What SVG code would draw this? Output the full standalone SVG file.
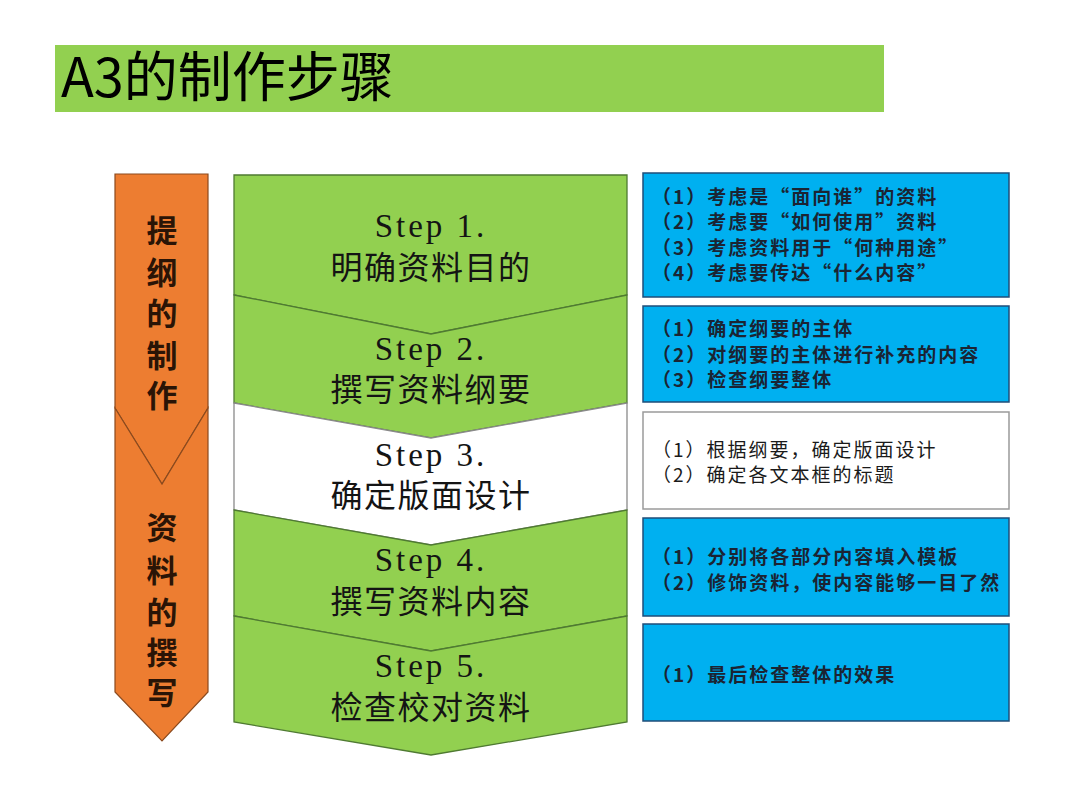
<svg xmlns="http://www.w3.org/2000/svg" width="1080" height="809" viewBox="0 0 1080 809">
<style>
.bg{fill:#ffffff}
.title{font-family:"Noto Sans CJK SC","Liberation Serif",serif;font-size:54px;fill:#000}
.orange{fill:#ED7D31;stroke:#8B4A1E;stroke-width:1.2}
.otext{font-family:"Liberation Serif","Noto Sans CJK SC",serif;font-size:31px;font-weight:bold;fill:#2a1406;text-anchor:middle}
.green{fill:#92D050;stroke:#4f7a32;stroke-width:1.3}
.white{fill:#ffffff;stroke:#8a8a8a;stroke-width:1.3}
.step{font-family:"Liberation Serif","Noto Sans CJK SC",serif;font-size:33px;letter-spacing:3px;fill:#141414;text-anchor:middle}
.scn{font-family:"Noto Sans CJK SC",sans-serif;font-size:32px;letter-spacing:1.5px;fill:#141414;text-anchor:middle}
.blue{fill:#00B0F0;stroke:#1F4E79;stroke-width:1.5}
.wbox{fill:#ffffff;stroke:#9a9a9a;stroke-width:1.5}
.btext{font-family:"Noto Sans CJK SC",sans-serif;font-size:19px;font-weight:bold;letter-spacing:2px;fill:#1b2433}
.btext2{font-family:"Noto Sans CJK SC",sans-serif;font-size:19px;letter-spacing:2px;fill:#1a1a1a}
</style>
<rect class="bg" x="0" y="0" width="1080" height="809"/>
<g id="title">
<rect x="55" y="45" width="829" height="67" fill="#92D050"/>
<text class="title" x="61" y="97">A3的制作步骤</text>
</g>
<g id="phase-outline">
<polygon class="orange" points="115,174 208,174 208,408 162,484 115,408"/>
<text class="otext" x="162" y="242">提</text>
<text class="otext" x="162" y="284">纲</text>
<text class="otext" x="162" y="325">的</text>
<text class="otext" x="162" y="367">制</text>
<text class="otext" x="162" y="407">作</text>
</g>
<g id="phase-writing">
<polygon class="orange" points="115,408 162,484 208,408 208,692 162,741 115,692"/>
<text class="otext" x="162" y="539">资</text>
<text class="otext" x="162" y="582">料</text>
<text class="otext" x="162" y="624">的</text>
<text class="otext" x="162" y="664">撰</text>
<text class="otext" x="162" y="704">写</text>
</g>
<g id="step1">
<polygon class="green" points="234,175 627,175 627,295 431,334 234,295"/>
<text class="step" x="431" y="237">Step 1.</text>
<text class="scn" x="431" y="279">明确资料目的</text>
</g>
<g id="step2">
<polygon class="green" points="234,295 431,334 627,295 627,403 431,438 234,403"/>
<text class="step" x="431" y="360">Step 2.</text>
<text class="scn" x="431" y="401">撰写资料纲要</text>
</g>
<g id="step3">
<polygon class="white" points="234,403 431,438 627,403 627,510 431,545 234,510"/>
<text class="step" x="431" y="466">Step 3.</text>
<text class="scn" x="431" y="507">确定版面设计</text>
</g>
<g id="step4">
<polygon class="green" points="234,510 431,545 627,510 627,616 431,651 234,616"/>
<text class="step" x="431" y="571">Step 4.</text>
<text class="scn" x="431" y="613">撰写资料内容</text>
</g>
<g id="step5">
<polygon class="green" points="234,616 431,651 627,616 627,722 431,755 234,722"/>
<text class="step" x="431" y="677">Step 5.</text>
<text class="scn" x="431" y="719">检查校对资料</text>
</g>
<g id="box1">
<rect class="blue" x="643" y="173" width="366" height="124"/>
<text class="btext" x="652" y="204">（1）考虑是“面向谁”的资料</text>
<text class="btext" x="652" y="229">（2）考虑要“如何使用”资料</text>
<text class="btext" x="652" y="255">（3）考虑资料用于“何种用途”</text>
<text class="btext" x="652" y="280">（4）考虑要传达“什么内容”</text>
</g>
<g id="box2">
<rect class="blue" x="643" y="306" width="366" height="96"/>
<text class="btext" x="652" y="336">（1）确定纲要的主体</text>
<text class="btext" x="652" y="362">（2）对纲要的主体进行补充的内容</text>
<text class="btext" x="652" y="387">（3）检查纲要整体</text>
</g>
<g id="box3">
<rect class="wbox" x="643" y="412" width="366" height="97"/>
<text class="btext2" x="652" y="457">（1）根据纲要，确定版面设计</text>
<text class="btext2" x="652" y="482">（2）确定各文本框的标题</text>
</g>
<g id="box4">
<rect class="blue" x="643" y="518" width="366" height="98"/>
<text class="btext" x="652" y="564">（1）分别将各部分内容填入模板</text>
<text class="btext" x="652" y="590">（2）修饰资料，使内容能够一目了然</text>
</g>
<g id="box5">
<rect class="blue" x="643" y="624" width="366" height="97"/>
<text class="btext" x="652" y="682">（1）最后检查整体的效果</text>
</g>
<g id="connectors"></g>
</svg>
